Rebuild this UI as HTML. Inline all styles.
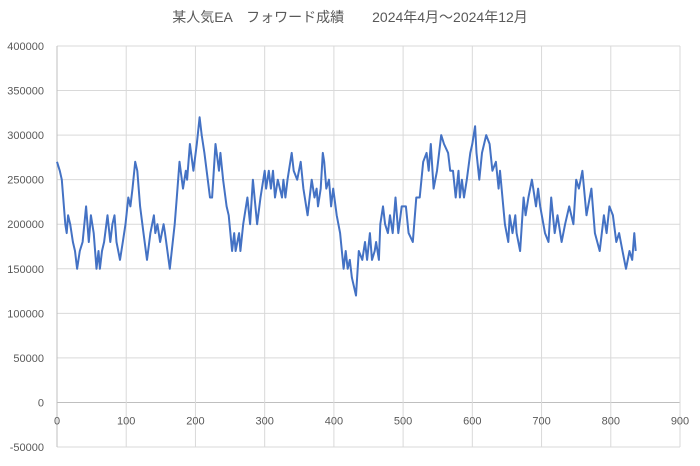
<!DOCTYPE html>
<html><head><meta charset="utf-8"><style>
body{margin:0;background:#fff}
svg text{font-family:"Liberation Sans","Noto Sans CJK JP",sans-serif;fill:#595959}
</style></head><body>
<svg id="chart" width="700" height="461" viewBox="0 0 700 461" xmlns="http://www.w3.org/2000/svg">
<rect width="700" height="461" fill="#fff"/>
<text x="350" y="22" text-anchor="middle" font-size="14">某人気EA　フォワード成績　　2024年4月～2024年12月</text>
<g id="grid"></g><g id="axes"></g><g id="series"></g>
</svg>
<script>
const xTicks=[0,100,200,300,400,500,600,700,800,900];
const yTicks=[-50000,0,50000,100000,150000,200000,250000,300000,350000,400000];
const days=[0,4,7,12,14,16,19,23,26,29,33,37,42,46,49,53,57,60,62,65,68,73,77,80,83,86,91,95,99,103,106,109,113,116,120,125,130,135,140,142,145,149,154,156,163,170,173,177,182,186,188,192,197,202,206,209,213,221,224,229,234,236,240,245,248,253,256,258,263,265,269,275,279,283,289,294,300,302,306,309,312,315,319,325,327,330,333,339,342,347,352,356,362,368,372,375,377,381,384,386,389,393,396,399,404,409,414,417,420,423,426,432,436,441,445,448,452,455,459,461,465,467,471,474,478,481,485,489,493,498,504,508,514,519,524,529,534,537,540,544,549,555,559,565,568,572,576,580,582,585,588,592,597,600,604,606,610,614,620,625,629,634,638,640,647,652,654,658,662,664,669,674,677,681,686,692,695,698,705,710,714,719,723,729,734,740,746,750,754,759,765,772,777,784,790,794,798,803,808,812,817,822,827,831,834,836];
const equity=[270000,260000,250000,200000,190000,210000,200000,180000,170000,150000,170000,180000,220000,180000,210000,190000,150000,170000,150000,170000,180000,210000,180000,200000,210000,180000,160000,180000,200000,230000,220000,240000,270000,260000,220000,190000,160000,190000,210000,190000,200000,180000,200000,190000,150000,200000,230000,270000,240000,260000,250000,290000,260000,290000,320000,300000,280000,230000,230000,290000,260000,280000,250000,220000,210000,170000,190000,170000,190000,170000,200000,230000,200000,250000,200000,230000,260000,240000,260000,240000,260000,230000,250000,230000,250000,230000,250000,280000,260000,250000,270000,240000,210000,250000,230000,240000,220000,240000,280000,270000,240000,250000,220000,240000,210000,190000,150000,170000,150000,160000,140000,120000,170000,160000,180000,160000,190000,160000,170000,180000,160000,200000,220000,200000,190000,210000,190000,230000,190000,220000,220000,190000,180000,230000,230000,270000,280000,260000,290000,240000,260000,300000,290000,280000,260000,260000,230000,260000,230000,250000,230000,250000,280000,290000,310000,280000,250000,280000,300000,290000,260000,270000,240000,260000,200000,180000,210000,190000,210000,190000,170000,230000,210000,230000,250000,220000,240000,220000,190000,180000,230000,190000,210000,180000,200000,220000,200000,250000,240000,260000,210000,240000,190000,170000,210000,190000,220000,210000,180000,190000,170000,150000,170000,160000,190000,170000];
const L=57,R=680,T=46,B=447;
const X=v=>L+(v-0)/(900-0)*(R-L);
const Y=v=>B-(v+50000)/(450000)*(B-T);
const NS="http://www.w3.org/2000/svg";
function mk(tag,attrs,parent,txt){const e=document.createElementNS(NS,tag);for(const k in attrs)e.setAttribute(k,attrs[k]);if(txt!==undefined)e.textContent=txt;document.getElementById(parent).appendChild(e);return e;}
yTicks.forEach(t=>{
  const g=mk('line',{x1:L,x2:R,y1:Y(t),y2:Y(t),stroke:t===0?'#bfbfbf':'#d9d9d9','stroke-width':1},'grid');
  
  
  const lb=mk('text',{x:44,y:Y(t)+4,'text-anchor':'end','font-size':11},'axes',String(t));
  
  
});
xTicks.forEach(t=>{
  const g=mk('line',{x1:X(t),x2:X(t),y1:T,y2:B,stroke:t===0?'#bfbfbf':'#d9d9d9','stroke-width':1},'grid');
  
  
  const lb=mk('text',{x:X(t),y:Y(0)+22,'text-anchor':'middle','font-size':11},'axes',String(t));
  
  
});
const d=days.map((x,i)=>(i?'L':'M')+X(x).toFixed(1)+','+Y(equity[i]).toFixed(1)).join(' ');
const p=mk('path',{d:d,fill:'none',stroke:'#4472c4','stroke-width':2,'stroke-linejoin':'round'},'series');


</script>
</body></html>
